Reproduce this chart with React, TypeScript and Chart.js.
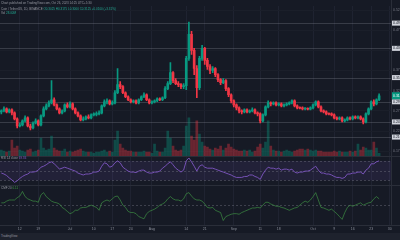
import React, { useEffect, useRef } from 'react';
import { Chart, registerables } from 'chart.js';

Chart.register(...registerables);

const FONT = '"Liberation Sans", "DejaVu Sans", sans-serif';
const BG = '#161a25';
const UP = '#089981';
const DOWN = '#f23645';

const firstDay = Date.UTC(2023, 5, 5);
const dayCount = 148;
const dates: string[] = Array.from({ length: dayCount }, (_, i) =>
  new Date(firstDay + i * 86400000).toISOString().slice(0, 10)
);

const tickDates = ['2023-06-12', '2023-06-19', '2023-07-01', '2023-07-10', '2023-07-17', '2023-07-24', '2023-08-01', '2023-08-14', '2023-08-21', '2023-09-01', '2023-09-11', '2023-09-18', '2023-10-01', '2023-10-09', '2023-10-16', '2023-10-23', '2023-10-30'];
const tickTexts = ['12', '19', 'Jul', '10', '17', '24', 'Aug', '14', '21', 'Sep', '11', '18', 'Oct', '9', '16', '23', '30'];

const opens = [
  0.2725, 0.2750, 0.2800, 0.2725, 0.2775, 0.2700, 0.2550, 0.2375, 0.2400, 0.2500,
  0.2575, 0.2375, 0.2325, 0.2450, 0.2500, 0.2400, 0.2625, 0.2800, 0.2875, 0.2950,
  0.3025, 0.2900, 0.2800, 0.2700, 0.2750, 0.2900, 0.2850, 0.2925, 0.2800, 0.2700,
  0.2625, 0.2525, 0.2550, 0.2600, 0.2575, 0.2650, 0.2660, 0.2675, 0.2700, 0.2875,
  0.2975, 0.3000, 0.2925, 0.2950, 0.3200, 0.3400, 0.3350, 0.3200, 0.3100, 0.3025,
  0.2975, 0.3000, 0.2950, 0.3025, 0.3100, 0.3150, 0.3025, 0.2950, 0.2975, 0.3000,
  0.3050, 0.3025, 0.3075, 0.3300, 0.3425, 0.3700, 0.3500, 0.3425, 0.3400, 0.3350,
  0.3375, 0.4050, 0.4650, 0.4250, 0.3800, 0.3325, 0.4050, 0.4300, 0.4000, 0.3850,
  0.3750, 0.3800, 0.3650, 0.3525, 0.3450, 0.3500, 0.3300, 0.3150, 0.3000, 0.2900,
  0.2825, 0.2750, 0.2725, 0.2775, 0.2725, 0.2750, 0.2775, 0.2700, 0.2675, 0.2500,
  0.2650, 0.2850, 0.2950, 0.2925, 0.2950, 0.2900, 0.2925, 0.2875, 0.2900, 0.2925,
  0.2950, 0.3000, 0.2875, 0.2825, 0.2815, 0.2800, 0.2810, 0.2790, 0.2825, 0.2900,
  0.2975, 0.2850, 0.2750, 0.2725, 0.2675, 0.2665, 0.2650, 0.2575, 0.2550, 0.2575,
  0.2500, 0.2525, 0.2575, 0.2550, 0.2600, 0.2575, 0.2600, 0.2550, 0.2475, 0.2675,
  0.2800, 0.2975, 0.2925, 0.3025,
];
const highs = [
  0.2775, 0.2850, 0.2825, 0.2800, 0.2800, 0.2725, 0.2575, 0.2450, 0.2525, 0.2625,
  0.2600, 0.2425, 0.2475, 0.2550, 0.2525, 0.2650, 0.2850, 0.2925, 0.3000, 0.3500,
  0.3075, 0.2925, 0.2825, 0.2775, 0.2925, 0.2950, 0.2975, 0.2950, 0.2825, 0.2725,
  0.2650, 0.2600, 0.2625, 0.2650, 0.2675, 0.2700, 0.2725, 0.2750, 0.2900, 0.3025,
  0.3050, 0.3025, 0.3000, 0.3250, 0.3800, 0.3475, 0.3375, 0.3225, 0.3125, 0.3050,
  0.3025, 0.3025, 0.3050, 0.3125, 0.3200, 0.3175, 0.3050, 0.3000, 0.3025, 0.3075,
  0.3075, 0.3100, 0.3350, 0.3475, 0.3950, 0.3725, 0.3550, 0.3475, 0.3425, 0.3425,
  0.4100, 0.4950, 0.4725, 0.4300, 0.3875, 0.4100, 0.4375, 0.4325, 0.4050, 0.3900,
  0.3850, 0.3825, 0.3675, 0.3550, 0.3550, 0.3525, 0.3325, 0.3175, 0.3025, 0.2925,
  0.2850, 0.2775, 0.2800, 0.2800, 0.2775, 0.2825, 0.2800, 0.2725, 0.2700, 0.2675,
  0.2875, 0.3000, 0.2975, 0.2975, 0.2975, 0.2950, 0.2950, 0.2925, 0.2950, 0.2975,
  0.3025, 0.3025, 0.2900, 0.2850, 0.2850, 0.2825, 0.2825, 0.2850, 0.2925, 0.3000,
  0.3000, 0.2875, 0.2775, 0.2750, 0.2700, 0.2700, 0.2675, 0.2600, 0.2600, 0.2600,
  0.2550, 0.2600, 0.2600, 0.2625, 0.2625, 0.2625, 0.2625, 0.2575, 0.2700, 0.2825,
  0.3000, 0.3025, 0.3050, 0.3175,
];
const lows = [
  0.2675, 0.2725, 0.2700, 0.2700, 0.2650, 0.2525, 0.2325, 0.2350, 0.2375, 0.2475,
  0.2350, 0.2275, 0.2300, 0.2425, 0.2375, 0.2375, 0.2600, 0.2775, 0.2850, 0.2925,
  0.2875, 0.2775, 0.2675, 0.2675, 0.2725, 0.2825, 0.2825, 0.2775, 0.2675, 0.2600,
  0.2500, 0.2500, 0.2525, 0.2550, 0.2550, 0.2625, 0.2625, 0.2650, 0.2675, 0.2850,
  0.2925, 0.2900, 0.2900, 0.2925, 0.3175, 0.3300, 0.3175, 0.3075, 0.3000, 0.2950,
  0.2950, 0.2925, 0.2925, 0.3000, 0.3075, 0.3000, 0.2925, 0.2925, 0.2950, 0.2975,
  0.3000, 0.3000, 0.3050, 0.3275, 0.3400, 0.3450, 0.3400, 0.3350, 0.3300, 0.3300,
  0.3275, 0.4000, 0.4150, 0.3650, 0.3075, 0.3275, 0.4000, 0.3900, 0.3775, 0.3675,
  0.3700, 0.3600, 0.3475, 0.3400, 0.3425, 0.3250, 0.3100, 0.2950, 0.2850, 0.2775,
  0.2700, 0.2675, 0.2700, 0.2700, 0.2700, 0.2725, 0.2675, 0.2625, 0.2450, 0.2475,
  0.2625, 0.2825, 0.2875, 0.2900, 0.2875, 0.2875, 0.2850, 0.2850, 0.2875, 0.2900,
  0.2925, 0.2850, 0.2800, 0.2800, 0.2775, 0.2775, 0.2775, 0.2775, 0.2800, 0.2875,
  0.2825, 0.2725, 0.2700, 0.2650, 0.2650, 0.2625, 0.2550, 0.2525, 0.2525, 0.2475,
  0.2475, 0.2500, 0.2525, 0.2525, 0.2550, 0.2550, 0.2525, 0.2425, 0.2450, 0.2650,
  0.2775, 0.2875, 0.2900, 0.3000,
];
const closes = [
  0.2750, 0.2800, 0.2725, 0.2775, 0.2700, 0.2550, 0.2375, 0.2400, 0.2500, 0.2575,
  0.2375, 0.2325, 0.2450, 0.2500, 0.2400, 0.2625, 0.2800, 0.2875, 0.2950, 0.3025,
  0.2900, 0.2800, 0.2700, 0.2750, 0.2900, 0.2850, 0.2925, 0.2800, 0.2700, 0.2625,
  0.2525, 0.2550, 0.2600, 0.2575, 0.2650, 0.2660, 0.2675, 0.2700, 0.2875, 0.2975,
  0.3000, 0.2925, 0.2950, 0.3200, 0.3400, 0.3350, 0.3200, 0.3100, 0.3025, 0.2975,
  0.3000, 0.2950, 0.3025, 0.3100, 0.3150, 0.3025, 0.2950, 0.2975, 0.3000, 0.3050,
  0.3025, 0.3075, 0.3300, 0.3425, 0.3700, 0.3500, 0.3425, 0.3400, 0.3350, 0.3375,
  0.4050, 0.4650, 0.4250, 0.3800, 0.3325, 0.4050, 0.4300, 0.4000, 0.3850, 0.3750,
  0.3800, 0.3650, 0.3525, 0.3450, 0.3500, 0.3300, 0.3150, 0.3000, 0.2900, 0.2825,
  0.2750, 0.2725, 0.2775, 0.2725, 0.2750, 0.2775, 0.2700, 0.2675, 0.2500, 0.2650,
  0.2850, 0.2950, 0.2925, 0.2950, 0.2900, 0.2925, 0.2875, 0.2900, 0.2925, 0.2950,
  0.3000, 0.2875, 0.2825, 0.2815, 0.2800, 0.2810, 0.2790, 0.2825, 0.2900, 0.2975,
  0.2850, 0.2750, 0.2725, 0.2675, 0.2665, 0.2650, 0.2575, 0.2550, 0.2575, 0.2500,
  0.2525, 0.2575, 0.2550, 0.2600, 0.2575, 0.2600, 0.2550, 0.2475, 0.2675, 0.2800,
  0.2975, 0.2925, 0.3025, 0.3125,
];
const volumes = [
  12, 10, 8, 10, 32, 16, 20, 12, 10, 8,
  12, 14, 8, 10, 12, 36, 16, 12, 14, 40,
  16, 12, 10, 10, 14, 8, 10, 8, 10, 12,
  14, 10, 8, 8, 8, 6, 8, 8, 10, 12,
  8, 10, 8, 32, 50, 24, 16, 12, 10, 10,
  8, 8, 8, 8, 10, 8, 8, 6, 24, 10,
  8, 8, 16, 50, 36, 20, 12, 10, 12, 20,
  60, 76, 40, 32, 70, 44, 28, 20, 18, 14,
  12, 16, 14, 20, 12, 16, 24, 18, 14, 12,
  10, 10, 12, 10, 12, 8, 10, 18, 24, 16,
  28, 70, 20, 12, 10, 10, 8, 10, 12, 10,
  8, 10, 12, 14, 14, 12, 14, 12, 10, 12,
  10, 10, 8, 8, 8, 8, 10, 8, 10, 8,
  8, 8, 10, 8, 10, 24, 12, 18, 16, 12,
  12, 28, 16, 6,
];
const rsi = [
  45, 43, 40, 35, 31, 26, 29, 34, 38, 41,
  43, 47, 47, 48, 51, 57, 59, 62, 66, 68,
  64, 59, 53, 55, 57, 55, 53, 51, 49, 45,
  43, 41, 43, 43, 44, 47, 47, 49, 59, 66,
  64, 57, 59, 66, 70, 66, 57, 53, 49, 47,
  47, 46, 49, 51, 51, 47, 45, 45, 47, 47,
  49, 55, 59, 64, 68, 62, 55, 51, 47, 51,
  70, 76, 68, 59, 49, 59, 62, 57, 55, 55,
  55, 53, 51, 49, 47, 45, 43, 41, 38, 36,
  36, 36, 38, 38, 41, 41, 38, 36, 32, 43,
  51, 57, 55, 55, 53, 55, 51, 53, 53, 51,
  53, 47, 45, 47, 47, 49, 49, 51, 55, 59,
  51, 45, 45, 43, 43, 41, 38, 36, 36, 34,
  36, 43, 43, 45, 45, 47, 47, 43, 51, 55,
  64, 64, 68, 70,
];
const cmf = [
  0.04, 0.04, 0.07, 0.09, 0.09, 0.09, 0.13, 0.16, 0.24, 0.15,
  0.11, 0.09, 0.07, 0.07, 0.05, 0.18, 0.22, 0.15, 0.11, 0.07,
  0.05, 0.04, 0.02, -0.04, -0.07, -0.11, -0.15, -0.13, -0.09, -0.09,
  -0.05, -0.04, -0.04, -0.02, 0.0, -0.02, -0.04, -0.09, 0.04, 0.07,
  0.09, 0.07, 0.11, 0.15, 0.16, 0.09, 0.0, -0.04, -0.11, -0.13,
  -0.13, -0.15, -0.2, -0.22, -0.24, -0.15, -0.11, -0.09, -0.07, -0.04,
  0.0, 0.02, 0.05, 0.11, 0.15, 0.11, 0.09, 0.09, 0.07, 0.11,
  0.2, 0.22, 0.16, 0.11, 0.09, 0.09, 0.07, 0.02, -0.04, -0.05,
  -0.04, -0.09, -0.11, -0.13, -0.27, -0.2, -0.18, -0.16, -0.15, -0.15,
  -0.16, -0.13, -0.11, -0.09, -0.07, -0.05, -0.05, -0.04, -0.05, 0.0,
  0.05, 0.05, 0.02, 0.0, -0.02, -0.02, -0.04, -0.05, -0.07, -0.09,
  -0.07, -0.05, -0.04, 0.0, 0.04, 0.07, 0.05, 0.09, 0.15, 0.22,
  0.09, -0.04, -0.05, -0.07, -0.09, -0.07, -0.11, -0.15, -0.2, -0.25,
  -0.13, -0.04, 0.0, -0.02, 0.0, 0.02, 0.04, 0.0, 0.02, 0.04,
  0.05, 0.11, 0.15, 0.11,
];
const levels = [0.4925, 0.43, 0.3575, 0.2975, 0.2475, 0.21];

const AXIS_W = 9;
const tickFont = { size: 3.5, family: FONT };

export default function App() {
  const ref = useRef<HTMLCanvasElement>(null);

  useEffect(() => {
    const canvas = ref.current;
    if (!canvas) return;
    const candleColors = closes.map((c, i) => (c >= opens[i] ? UP : DOWN));
    const volColors = closes.map((c, i) => (c >= opens[i] ? 'rgba(8,153,129,0.38)' : 'rgba(242,54,69,0.38)'));

    const panes = {
      id: 'panes',
      beforeDraw(chart: any) {
        const { ctx } = chart;
        ctx.save();
        ctx.fillStyle = BG;
        ctx.fillRect(0, 0, chart.width, chart.height);
        ctx.restore();
      },
      beforeDatasetsDraw(chart: any) {
        const { ctx, chartArea: a, scales } = chart;
        const p = scales.y, r = scales.yRsi, o = scales.yOsc;
        ctx.save();
        const t70 = r.getPixelForValue(70), t30 = r.getPixelForValue(30);
        ctx.fillStyle = 'rgba(126,87,194,0.12)';
        ctx.fillRect(a.left, t70, a.right - a.left, t30 - t70);
        ctx.lineWidth = 1;
        ctx.strokeStyle = 'rgba(120,123,134,0.4)';
        ctx.setLineDash([2, 2]);
        [70, 50, 30].forEach((v) => {
          const py = Math.round(r.getPixelForValue(v)) + 0.5;
          ctx.beginPath(); ctx.moveTo(a.left, py); ctx.lineTo(a.right, py); ctx.stroke();
        });
        const z = Math.round(o.getPixelForValue(0)) + 0.5;
        ctx.beginPath(); ctx.moveTo(a.left, z); ctx.lineTo(a.right, z); ctx.stroke();
        ctx.setLineDash([]);
        ctx.strokeStyle = 'rgba(130,133,144,0.32)';
        levels.forEach((v) => {
          const py = Math.round(p.getPixelForValue(v)) + 0.5;
          ctx.beginPath(); ctx.moveTo(a.left, py); ctx.lineTo(a.right, py); ctx.stroke();
        });
        ctx.restore();
      },
      afterDraw(chart: any) {
        const { ctx, chartArea: a, scales } = chart;
        const p = scales.y, r = scales.yRsi, o = scales.yOsc;
        ctx.save();
        ctx.strokeStyle = '#2a2e39';
        ctx.lineWidth = 1;
        [r.top, o.top, a.bottom].forEach((yy: number) => {
          const py = Math.round(yy) + 0.5;
          ctx.beginPath(); ctx.moveTo(0, py); ctx.lineTo(chart.width, py); ctx.stroke();
        });
        const bx = Math.round(a.right) + 0.5;
        ctx.beginPath(); ctx.moveTo(bx, 0); ctx.lineTo(bx, a.bottom); ctx.stroke();
        ctx.font = `3.5px ${FONT}`;
        ctx.textBaseline = 'middle';
        levels.forEach((v) => {
          const py = p.getPixelForValue(v);
          ctx.fillStyle = '#d1d4dc';
          ctx.fillRect(a.right + 1, py - 2.5, 12, 5);
          ctx.fillStyle = '#131722';
          ctx.fillText(v.toFixed(4), a.right + 2, py);
        });
        const last = closes[closes.length - 1];
        const ly = p.getPixelForValue(last);
        ctx.fillStyle = UP;
        ctx.fillRect(a.right + 1, ly - 3.5, 12, 7);
        ctx.fillStyle = '#ffffff';
        ctx.fillText(last.toFixed(4), a.right + 2, ly);
        ctx.restore();
      },
    };

    const chart = new Chart(canvas, {
      type: 'bar',
      data: {
        labels: dates,
        datasets: [
          {
            type: 'bar',
            label: 'Volume',
            data: volumes,
            yAxisID: 'yVol',
            backgroundColor: volColors,
            barThickness: 2,
            grouped: false,
            order: 4,
          } as any,
          {
            type: 'bar',
            label: 'Wicks',
            data: highs.map((h, i) => [lows[i], h]),
            yAxisID: 'y',
            backgroundColor: candleColors,
            barThickness: 1,
            grouped: false,
            order: 3,
          } as any,
          {
            type: 'bar',
            label: 'Bodies',
            data: opens.map((op, i) => [op, closes[i]]),
            yAxisID: 'y',
            backgroundColor: candleColors,
            barThickness: 2,
            minBarLength: 1,
            grouped: false,
            order: 2,
          } as any,
          {
            type: 'line',
            label: 'RSI',
            data: rsi,
            yAxisID: 'yRsi',
            borderColor: 'rgba(126,87,194,0.9)',
            borderWidth: 1,
            pointRadius: 0,
            tension: 0,
            order: 1,
          } as any,
          {
            type: 'line',
            label: 'CMF',
            data: cmf,
            yAxisID: 'yOsc',
            borderColor: 'rgba(67,160,71,0.6)',
            borderWidth: 1,
            pointRadius: 0,
            tension: 0,
            order: 1,
          } as any,
        ],
      },
      options: {
        responsive: false,
        devicePixelRatio: 1,
        animation: false,
        events: [],
        layout: { padding: { top: 6, bottom: 7, left: 0, right: 0 } },
        plugins: { legend: { display: false }, tooltip: { enabled: false } },
        scales: {
          x: {
            type: 'category',
            offset: true,
            grid: { offset: false, color: '#1f2331', drawTicks: false },
            border: { display: false },
            afterBuildTicks: (s: any) => {
              s.ticks = tickDates.map((d) => ({ value: dates.indexOf(d) }));
            },
            ticks: {
              autoSkip: false,
              maxRotation: 0,
              padding: 2,
              color: '#8a8e99',
              font: tickFont,
              callback: (_v: any, idx: number) => tickTexts[idx] ?? '',
            },
          },
          y: {
            type: 'linear',
            position: 'right',
            stack: 'panes',
            stackWeight: 149,
            min: 0.1625,
            max: 0.535,
            afterFit: (s: any) => { s.width = AXIS_W; },
            grid: { color: '#1b1f2a', drawTicks: false },
            border: { display: false },
            ticks: {
              stepSize: 0.025,
              includeBounds: false,
              padding: 2,
              color: '#787b86',
              font: tickFont,
              callback: (v: any) => Number(v).toFixed(4),
            },
          },
          yRsi: {
            type: 'linear',
            position: 'right',
            stack: 'panes',
            stackWeight: 29,
            min: 19.5,
            max: 79.5,
            afterFit: (s: any) => { s.width = AXIS_W; },
            afterBuildTicks: (s: any) => { s.ticks = [{ value: 70 }, { value: 50 }, { value: 30 }]; },
            grid: { display: false },
            border: { display: false },
            ticks: { padding: 2, color: '#787b86', font: tickFont, callback: (v: any) => Number(v).toFixed(2) },
          },
          yOsc: {
            type: 'linear',
            position: 'right',
            stack: 'panes',
            stackWeight: 39,
            min: -0.345,
            max: 0.345,
            afterFit: (s: any) => { s.width = AXIS_W; },
            afterBuildTicks: (s: any) => { s.ticks = [{ value: 0.2 }, { value: 0 }, { value: -0.2 }]; },
            grid: { display: false },
            border: { display: false },
            ticks: { padding: 2, color: '#787b86', font: tickFont, callback: (v: any) => Number(v).toFixed(2) },
          },
          yVol: {
            type: 'linear',
            position: 'left',
            display: false,
            min: -136,
            max: 298,
          },
        },
      } as any,
      plugins: [panes],
    });
    return () => chart.destroy();
  }, []);

  const txt: React.CSSProperties = { position: 'absolute', left: 1, fontSize: 3, lineHeight: '3px', whiteSpace: 'nowrap', color: '#9598a1' };
  const teal = { color: '#22ab94' };

  return (
    <div style={{ position: 'fixed', left: 0, top: 0, width: 400, height: 240, background: BG, overflow: 'hidden', fontFamily: FONT }}>
      <canvas ref={ref} width={400} height={240} style={{ position: 'absolute', left: 0, top: 0, width: 400, height: 240 }} />
      <div style={{ ...txt, top: 1.5 }}>Chart published on TradingView.com, Oct 26, 2023 14:25 UTC+5:30</div>
      <div style={{ ...txt, top: 7.5 }}>
        Coin / TetherUS, 1D, BINANCE <span style={teal}>O0.3025 H0.3175 L0.3000 C0.3125 +0.0100 (+3.31%)</span>
      </div>
      <div style={{ ...txt, top: 12 }}>
        Vol <span style={teal}>28.00M</span>
      </div>
      <div style={{ ...txt, top: 156.5 }}>
        RSI 14 close <span style={{ color: '#7e57c2' }}>69.84</span>
      </div>
      <div style={{ ...txt, top: 186.5 }}>
        CMF 20 <span style={{ color: '#43a047' }}>0.11</span>
      </div>
      <div style={{ position: 'absolute', left: 0, top: 233, width: 400, height: 7, background: '#1e222d' }}>
        <div style={{ ...txt, top: 2 }}>TradingView</div>
      </div>
    </div>
  );
}
